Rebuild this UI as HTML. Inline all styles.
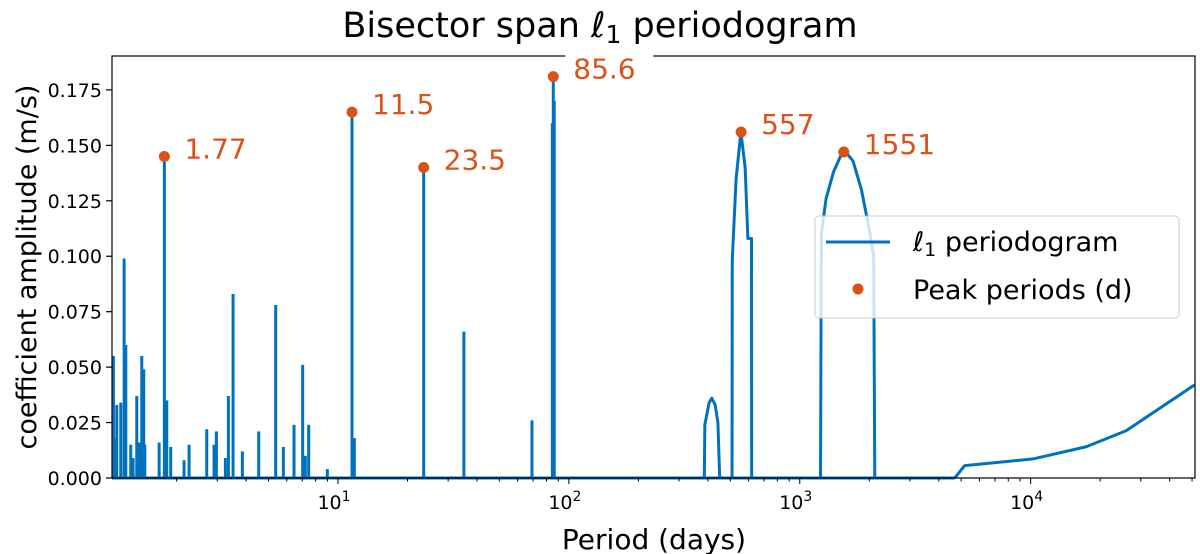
<!DOCTYPE html>
<html><head><meta charset="utf-8"><style>
html,body{margin:0;padding:0;background:#fff;}
svg{display:block;font-family:"DejaVu Sans","Liberation Sans",sans-serif;}
</style></head><body>
<svg id="chart" width="1200" height="554" viewBox="0 0 1200 554" xmlns="http://www.w3.org/2000/svg">
<text x="600" y="37" font-size="35" text-anchor="middle">Bisector span <tspan font-style="italic">ℓ</tspan><tspan font-size="25" dy="6">1</tspan><tspan dy="-6"> periodogram</tspan></text>
<g id="plot"></g>
<text x="654" y="549" font-size="28" text-anchor="middle">Period (days)</text>
<text transform="translate(36,267) rotate(-90)" font-size="27" text-anchor="middle">coefficient amplitude (m/s)</text>
</svg>
<script>
// ---- data ----
const spikePeriods = [1.065,1.083,1.101,1.146,1.185,1.205,1.266,1.296,1.344,1.380,1.413,1.441,1.456,1.680,1.77,1.813,1.886,2.154,2.265,2.701,2.905,2.974,3.253,3.352,3.512,3.853,4.536,5.373,5.799,6.450,7.031,7.220,7.466,8.991,11.5,11.77,23.5,35.1,69.2,84.8,85.6,86.4];
const spikeAmps    = [0.055,0.018,0.033,0.034,0.099,0.060,0.015,0.009,0.037,0.016,0.055,0.049,0.015,0.016,0.145,0.035,0.014,0.008,0.015,0.022,0.015,0.021,0.009,0.037,0.083,0.012,0.021,0.078,0.014,0.024,0.051,0.010,0.024,0.004,0.165,0.018,0.140,0.066,0.026,0.160,0.181,0.170];
const bump1Periods = [386,388,405,416,430,442,450];
const bump1Amps    = [0,0.024,0.034,0.036,0.033,0.025,0];
const bump2Periods = [509,510,530,556,580,596,618,619];
const bump2Amps    = [0,0.098,0.135,0.156,0.140,0.108,0.108,0];
const bump3Periods = [1230,1240,1300,1400,1500,1581,1700,1850,2000,2090,2113];
const bump3Amps    = [0,0.110,0.126,0.138,0.145,0.147,0.143,0.130,0.112,0.100,0];
const tailPeriods  = [4690,5180,10240,17400,25900,51300];
const tailAmps     = [0,0.0056,0.0086,0.0141,0.0213,0.042];
const peakPeriods  = [1.77,11.5,23.5,85.6,557,1551];
const peakAmps     = [0.145,0.165,0.140,0.181,0.156,0.147];
const peakLabels   = ["1.77","11.5","23.5","85.6","557","1551"];
const yTicks = [0,0.025,0.05,0.075,0.1,0.125,0.15,0.175];
const yTickLabels = ["0.000","0.025","0.050","0.075","0.100","0.125","0.150","0.175"];
const xDecades = [1,2,3,4];

// ---- axes ----
const L=112,R=1195,T=56,B=478;
const xMinL=Math.log10(1.05), xMaxL=Math.log10(51500);
const yMax=0.1903;
const X=p=>L+(Math.log10(p)-xMinL)/(xMaxL-xMinL)*(R-L);
const Y=v=>B-v/yMax*(B-T);
const NS="http://www.w3.org/2000/svg";
const g=document.getElementById('plot');
function mk(tag,attrs,parent){const e=document.createElementNS(NS,tag);for(const k in attrs)e.setAttribute(k,attrs[k]);(parent||g).appendChild(e);return e;}
const BLUE="#0072bd", ORANGE="#d95319";

let bl=mk('line',{x1:L,y1:B,x2:X(4690),y2:B,stroke:BLUE,'stroke-width':3});


spikePeriods.forEach((p,i)=>{
  const l=mk('line',{x1:X(p),y1:B,x2:X(p),y2:Y(spikeAmps[i]),stroke:BLUE,'stroke-width':3});
  
  
});
function poly(ps,as,name){
  const pl=mk('polyline',{points:ps.map((p,i)=>X(p)+','+Y(as[i])).join(' '),fill:'none',stroke:BLUE,'stroke-width':3,'stroke-linejoin':'round'});
  
  
}
poly(bump1Periods,bump1Amps,'periodogram-bump-400');
poly(bump2Periods,bump2Amps,'periodogram-bump-557');
poly(bump3Periods,bump3Amps,'periodogram-bump-1551');
poly(tailPeriods,tailAmps,'periodogram-tail');

const fr=mk('rect',{x:L,y:T,width:R-L,height:B-T,fill:'none',stroke:'#000','stroke-width':1.2});


yTicks.forEach((v,i)=>{
  const t=mk('line',{x1:L-6,y1:Y(v),x2:L,y2:Y(v),stroke:'#000','stroke-width':1.2});
  
  
  const tx=mk('text',{x:L-10,y:Y(v)+7,'font-size':19,'text-anchor':'end'});
  tx.textContent=yTickLabels[i];
  
  
});
for(let d=0;d<=4;d++){for(let m=1;m<10;m++){
  const p=m*Math.pow(10,d); if(p<1.05||p>51500)continue;
  const major=m===1;
  const t=mk('line',{x1:X(p),y1:B,x2:X(p),y2:B+(major?6:3.5),stroke:'#000','stroke-width':1});
  
  
}}
xDecades.forEach(d=>{
  const tx=mk('text',{x:X(Math.pow(10,d))-4,y:B+31,'font-size':19,'text-anchor':'middle'});
  tx.textContent='10';
  const s=document.createElementNS(NS,'tspan');s.setAttribute('font-size',14);s.setAttribute('dy',-8);s.textContent=d;tx.appendChild(s);
  
  
});
peakPeriods.forEach((p,i)=>{
  const cx=X(p),cy=Y(peakAmps[i]);
  const c=mk('circle',{cx:cx,cy:cy,r:5.5,fill:ORANGE});
  
  
  if(peakLabels[i]==="85.6"){const bg=mk('rect',{x:cx+12,y:cy-27,width:88,height:38,fill:'#fff'});
    
    }
  const tx=mk('text',{x:cx+20,y:cy+2,'font-size':28,fill:ORANGE});
  tx.textContent=peakLabels[i];
  
  
});
const lg=mk('rect',{x:815,y:216,width:364,height:102,rx:4,fill:'#fff','fill-opacity':0.8,stroke:'#ccc','stroke-width':1});


const ll=mk('line',{x1:826,y1:242,x2:890,y2:242,stroke:BLUE,'stroke-width':3});


const lt=mk('text',{x:913,y:251,'font-size':27});
lt.innerHTML='<tspan font-style="italic">ℓ</tspan><tspan font-size="19" dy="5">1</tspan><tspan dy="-5"> periodogram</tspan>';


const ld=mk('circle',{cx:858,cy:289,r:5.5,fill:ORANGE});


const lt2=mk('text',{x:913,y:299,'font-size':27});
lt2.textContent='Peak periods (d)';


</script>
</body></html>
